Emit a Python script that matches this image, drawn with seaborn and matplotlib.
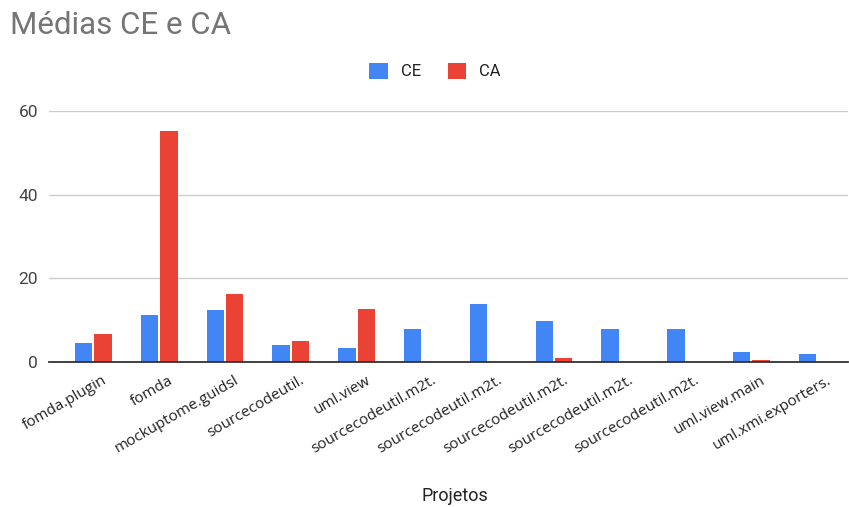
import matplotlib
matplotlib.use("Agg")
import matplotlib.pyplot as plt
import matplotlib.transforms as mtransforms
import numpy as np
import pandas as pd
import seaborn as sns

# Project names (several share the same truncated label)
projetos = [
    "fomda.plugin", "fomda", "mockuptome.guidsl", "sourcecodeutil.",
    "uml.view", "sourcecodeutil.m2t.", "sourcecodeutil.m2t.",
    "sourcecodeutil.m2t.", "sourcecodeutil.m2t.", "sourcecodeutil.m2t.",
    "uml.view.main", "uml.xmi.exporters.",
]
ce_medias = [4.5, 11.2, 12.4, 4.1, 3.3, 8.0, 13.8, 9.9, 8.0, 8.0, 2.4, 2.0]
ca_medias = [6.6, 55.1, 16.3, 5.1, 12.6, 0.0, 0.0, 0.9, 0.0, 0.0, 0.55, 0.0]
series = ["CE", "CA"]
y_ticks = [0, 20, 40, 60]

# Long-form table; positions keep duplicate names as separate bars
n = len(projetos)
df = pd.DataFrame({
    "pos": list(range(n)) * 2,
    "valor": ce_medias + ca_medias,
    "serie": ["CE"] * n + ["CA"] * n,
})

sns.set_theme(style="white")
plt.rcParams["font.family"] = ["Roboto", "DejaVu Sans"]

W, H, DPI = 849, 507, 100
fig = plt.figure(figsize=(W / DPI, H / DPI), dpi=DPI)
ax = fig.add_axes([49 / W, 1 - 362 / H, (848 - 49) / W, (362 - 111) / H])

palette = {"CE": "#4285F4", "CA": "#EA4335"}
sns.barplot(data=df, x="pos", y="valor", hue="serie", hue_order=series,
            palette=palette, width=0.59, gap=0.1, linewidth=0,
            saturation=1, ax=ax)

handles, labels = ax.get_legend_handles_labels()
if ax.get_legend() is not None:
    ax.get_legend().remove()

ax.set_ylim(0, 60)
ax.set_xlim(-0.676, 11.47)
ax.set_yticks(y_ticks)
ax.set_yticklabels([str(v) for v in y_ticks], color="#444444", fontsize=12.5)
ax.yaxis.grid(True, color="#cccccc", linewidth=1)
ax.set_axisbelow(True)
ax.tick_params(axis="y", length=0, pad=8)
ax.tick_params(axis="x", length=0, pad=8)

for side in ["top", "right", "left"]:
    ax.spines[side].set_visible(False)
ax.spines["bottom"].set_color("#333333")
ax.spines["bottom"].set_linewidth(1.3)
ax.spines["bottom"].set_zorder(5)

ax.set_xticks(range(n))
ax.set_xticklabels(projetos, rotation=30, ha="right", va="top",
                   rotation_mode="anchor", fontsize=11,
                   family=["Open Sans", "DejaVu Sans"], color="#222222")
shift = mtransforms.ScaledTranslation(9 / DPI, 0, fig.dpi_scale_trans)
for lbl in ax.get_xticklabels():
    lbl.set_transform(lbl.get_transform() + shift)

ax.set_xlabel("")
ax.set_ylabel("")
fig.text(455 / W, 1 - 496 / H, "Projetos", ha="center", va="center",
         fontsize=13, color="#222222")

fig.text(10 / W, 1 - 25 / H, "Médias CE e CA", ha="left", va="center",
         fontsize=22.5, color="#757575")

fig.legend(handles, labels, loc="center", bbox_to_anchor=(435 / W, 1 - 71 / H),
           ncol=2, frameon=False, fontsize=12, handlelength=1.1,
           handleheight=1.1, handletextpad=0.8, columnspacing=1.6,
           labelcolor="#222222")

fig.savefig("out.png", dpi=DPI)
